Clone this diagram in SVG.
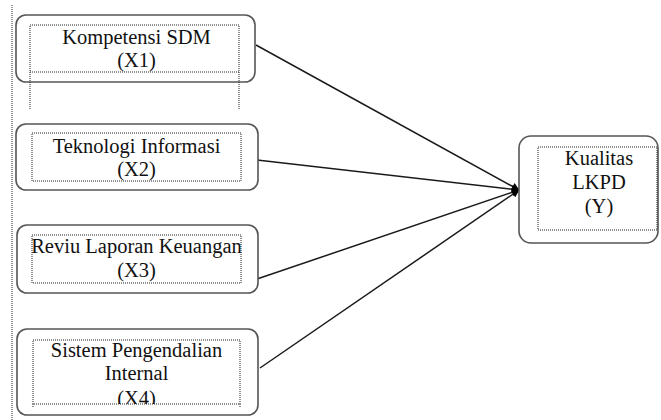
<svg xmlns="http://www.w3.org/2000/svg" width="661" height="420" viewBox="0 0 661 420">
<defs>
<marker id="ah" viewBox="0 0 10 10" refX="9" refY="5" markerWidth="10" markerHeight="8" markerUnits="userSpaceOnUse" orient="auto">
<path d="M0,0 L10,5 L0,10 Z" fill="#000"/>
</marker>
<clipPath id="c4"><rect x="33" y="340" width="207" height="64"/></clipPath>
</defs>
<style>
.box{fill:#fff;stroke:#555;stroke-width:1.6}
.in{fill:none;stroke:#222;stroke-width:1;stroke-dasharray:1 1}
.t{font-family:"Liberation Serif","Times New Roman",serif;font-size:20.5px;fill:#111;text-anchor:middle}
.ln{stroke:#1a1a1a;stroke-width:1.5;fill:none}
</style>
<rect width="661" height="420" fill="#fff"/>
<line x1="12" y1="5" x2="12" y2="420" stroke="#333" stroke-width="1" stroke-dasharray="1 1"/>
<g id="connectors">
<line class="ln" x1="256" y1="45" x2="519" y2="190" marker-end="url(#ah)"/>
<line class="ln" x1="257" y1="160" x2="519" y2="190" marker-end="url(#ah)"/>
<line class="ln" x1="257" y1="279" x2="519" y2="190" marker-end="url(#ah)"/>
<line class="ln" x1="260" y1="368" x2="519" y2="190" marker-end="url(#ah)"/>
</g>
<g id="x1">
<rect class="box" x="16" y="15" width="239" height="67" rx="10"/>
<rect class="in" x="30" y="25" width="209" height="47"/>
<line class="in" x1="30" y1="72" x2="30" y2="110"/>
<line class="in" x1="239" y1="72" x2="239" y2="110"/>
<text class="t" x="136.5" y="44">Kompetensi SDM</text>
<text class="t" x="136.5" y="67">(X1)</text>
</g>
<g id="x2">
<rect class="box" x="16" y="124" width="242" height="66" rx="10"/>
<rect class="in" x="32" y="133" width="209" height="48"/>
<text class="t" x="136.5" y="153">Teknologi Informasi</text>
<text class="t" x="136.5" y="176">(X2)</text>
</g>
<g id="x3">
<rect class="box" x="17" y="225" width="241" height="68" rx="10"/>
<rect class="in" x="32" y="235" width="209" height="48"/>
<text class="t" x="136.5" y="253">Reviu Laporan Keuangan</text>
<text class="t" x="136.5" y="277">(X3)</text>
</g>
<g id="x4">
<rect class="box" x="17" y="329" width="241" height="86" rx="10"/>
<rect class="in" x="33" y="340" width="207" height="64"/>
<line class="in" x1="33" y1="404" x2="33" y2="408"/>
<line class="in" x1="240" y1="404" x2="240" y2="408"/>
<text class="t" x="136.5" y="357">Sistem Pengendalian</text>
<text class="t" x="136.5" y="380">Internal</text>
<text class="t" x="136.5" y="405" clip-path="url(#c4)">(X4)</text>
</g>
<g id="y">
<rect class="box" x="519" y="136" width="139" height="107" rx="12"/>
<rect class="in" x="538" y="147" width="119" height="83"/>
<text class="t" x="599" y="165">Kualitas</text>
<text class="t" x="599" y="189">LKPD</text>
<text class="t" x="599" y="213">(Y)</text>
</g>
</svg>
